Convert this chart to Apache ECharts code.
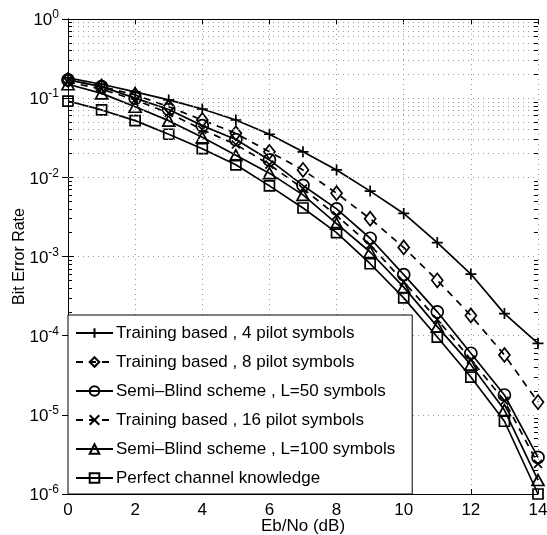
<!DOCTYPE html>
<html>
<head>
<meta charset="utf-8">
<script src="https://cdn.jsdelivr.net/npm/echarts@6/dist/echarts.min.js"></script>
<style>
html,body{margin:0;padding:0;background:#fff;}
#c{width:547px;height:535px;}
</style>
</head>
<body>
<div id="c"></div>
<script>
var ebno = [0,1,2,3,4,5,6,7,8,9,10,11,12,13,14];
var train4 = [0.18,0.15,0.12,0.095,0.073,0.053,0.035,0.021,0.0124,0.0067,0.0035,0.0015,0.0006,0.00019,0.00008];
var train8 = [0.17,0.14,0.11,0.078,0.053,0.036,0.021,0.0124,0.0063,0.003,0.0013,0.0005,0.00018,0.000057,0.0000145];
var semiL50 = [0.17,0.14,0.1,0.072,0.045,0.03,0.0166,0.0079,0.004,0.0017,0.00059,0.0002,0.00006,0.0000178,0.0000029];
var train16 = [0.16,0.13,0.095,0.065,0.04,0.026,0.0145,0.0072,0.0033,0.0014,0.00048,0.00016,0.00005,0.000015,0.0000024];
var semiL100 = [0.15,0.115,0.078,0.052,0.032,0.019,0.0113,0.006,0.0026,0.00114,0.00041,0.00013,0.000043,0.0000115,0.0000015];
var perfect = [0.092,0.071,0.052,0.035,0.023,0.0144,0.0078,0.0041,0.002,0.00081,0.0003,0.000096,0.00003,0.0000083,0.000001];
var seriesNames = [
  'Training based , 4 pilot symbols',
  'Training based , 8 pilot symbols',
  'Semi\u2013Blind scheme , L=50 symbols',
  'Training based , 16 pilot symbols',
  'Semi\u2013Blind scheme , L=100 symbols',
  'Perfect channel knowledge'
];
var xTickLabels = [0,2,4,6,8,10,12,14];
var yDecadeExps = [-6,-5,-4,-3,-2,-1,0];

var FONT = '"Liberation Sans", Arial, sans-serif';
function pair(a){ return ebno.map(function(x,i){ return [x, a[i]]; }); }

// minor log grid positions (2..9 x 10^k)
var minorVals = [];
for (var k = -6; k < 0; k++) { for (var m = 2; m <= 9; m++) { minorVals.push(m * Math.pow(10, k)); } }
var minorGrid = minorVals.map(function(v){ return {yAxis: v}; });
var tickLines = [];
minorVals.forEach(function(v){
  tickLines.push([{coord:[0, v]}, {coord:[0.12, v]}]);
  tickLines.push([{coord:[13.88, v]}, {coord:[14, v]}]);
});

var PLUS = 'path://M5,0 L5,10 M0,5 L10,5';
var CROSS = 'path://M0,0 L10,10 M10,0 L0,10';

function mk(name, data, symbol, size, dashed) {
  return {
    name: name, type: 'line', data: pair(data),
    symbol: symbol, symbolSize: size,
    lineStyle: {color: '#000', width: 1.7, type: dashed ? [7,6] : 'solid'},
    itemStyle: {color: 'rgba(0,0,0,0)', borderColor: '#000', borderWidth: 1.7},
    emphasis: {disabled: true},
    z: 3
  };
}

var series = [
  mk(seriesNames[0], train4, PLUS, 11, false),
  mk(seriesNames[1], train8, 'diamond', [11,14], true),
  mk(seriesNames[2], semiL50, 'circle', 12, false),
  mk(seriesNames[3], train16, CROSS, 8, true),
  mk(seriesNames[4], semiL100, 'triangle', [12,11], false),
  mk(seriesNames[5], perfect, 'rect', 10, false)
];
series.push({
  name: 'minorgrid', type: 'line', data: [], silent: true, z: 1,
  markLine: {silent: true, symbol: ['none','none'], animation: false,
    label: {show: false},
    lineStyle: {color: '#9a9a9a', width: 1, type: [1,4]},
    data: minorGrid}
});
series.push({
  name: 'minorticks', type: 'line', data: [], silent: true, z: 2,
  markLine: {silent: true, symbol: ['none','none'], animation: false,
    label: {show: false},
    lineStyle: {color: '#000', width: 1, type: 'solid'},
    data: tickLines}
});

var chart = echarts.init(document.getElementById('c'), null, {renderer: 'canvas'});
chart.setOption({
  animation: false,
  backgroundColor: '#fff',
  grid: {left: 68, right: 9, top: 19, bottom: 41, containLabel: false, outerBoundsMode: 'none'},
  legend: {
    data: seriesNames,
    orient: 'vertical', left: 68, top: 315,
    backgroundColor: '#fff', borderColor: '#000', borderWidth: 1,
    padding: [8, 17, 6, 7],
    itemWidth: 37, itemHeight: 12, itemGap: 9,
    textStyle: {fontFamily: FONT, fontSize: 17, color: '#000', lineHeight: 20, padding: [0,0,0,-2]},
    selectedMode: false, z: 10
  },
  xAxis: [{
    type: 'value', min: 0, max: 14, interval: 2,
    name: 'Eb/No (dB)', nameLocation: 'middle', nameGap: 24, nameMoveOverlap: false,
    nameTextStyle: {fontFamily: FONT, fontSize: 17, color: '#000'},
    axisLine: {lineStyle: {color: '#000', width: 1}},
    axisTick: {inside: true, length: 5, lineStyle: {color: '#000'}},
    axisLabel: {fontFamily: FONT, fontSize: 17, color: '#000', margin: 8,
      formatter: function(v){ return xTickLabels.indexOf(v) >= 0 ? String(v) : ''; }},
    splitLine: {show: true, lineStyle: {color: '#9a9a9a', width: 1, type: [1,4]}}
  }, {
    type: 'value', min: 0, max: 14, interval: 2, position: 'top',
    axisLine: {show: true, lineStyle: {color: '#000', width: 1}},
    axisTick: {show: true, inside: true, length: 5, lineStyle: {color: '#000'}},
    axisLabel: {show: false}, splitLine: {show: false}
  }],
  yAxis: [{
    type: 'log', logBase: 10, min: 1e-6, max: 1,
    name: 'Bit Error Rate', nameLocation: 'middle', nameGap: 40, nameRotate: 90, nameMoveOverlap: false,
    nameTextStyle: {fontFamily: FONT, fontSize: 16, color: '#000'},
    axisLine: {show: true, lineStyle: {color: '#000', width: 1}},
    axisTick: {show: true, inside: true, length: 6, lineStyle: {color: '#000'}},
    axisLabel: {fontFamily: FONT, color: '#000', margin: 9,
      formatter: function(v){
        var e = Math.round(Math.log(v)/Math.LN10);
        if (yDecadeExps.indexOf(e) < 0) return '';
        return '{b|10}{s|' + e + '}';
      },
      rich: {
        b: {fontFamily: FONT, fontSize: 17, color: '#000', lineHeight: 20, verticalAlign: 'bottom'},
        s: {fontFamily: FONT, fontSize: 12, color: '#000', lineHeight: 20, verticalAlign: 'top', padding: [0,0,8,0]}
      }
    },
    splitLine: {show: true, lineStyle: {color: '#9a9a9a', width: 1, type: [1,4]}}
  }, {
    type: 'log', logBase: 10, min: 1e-6, max: 1, position: 'right',
    axisLine: {show: true, lineStyle: {color: '#000', width: 1}},
    axisTick: {show: true, inside: true, length: 6, lineStyle: {color: '#000'}},
    axisLabel: {show: false}, splitLine: {show: false}
  }],
  series: series
});
</script>
</body>
</html>
